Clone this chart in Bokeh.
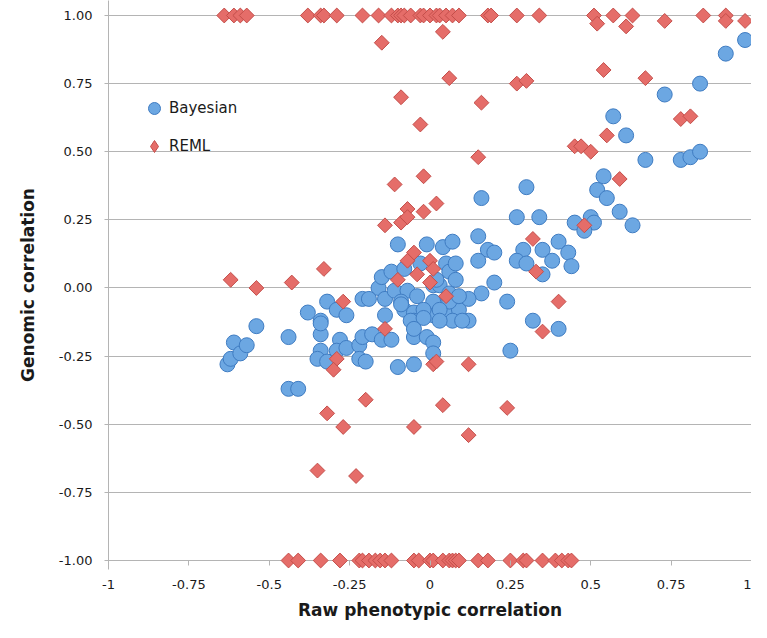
import numpy as np
from bokeh.plotting import figure
from bokeh.models import FixedTicker, Legend, LegendItem, Range1d
from bokeh.embed import file_html
from bokeh.resources import INLINE

# ---- tick definitions ----
x_ticks = [-1, -0.75, -0.5, -0.25, 0, 0.25, 0.5, 0.75, 1]
x_tick_labels = ["-1", "-0.75", "-0.5", "-0.25", "0", "0.25", "0.5", "0.75", "1"]
y_ticks = [-1, -0.75, -0.5, -0.25, 0, 0.25, 0.5, 0.75, 1]
y_tick_labels = ["-1.00", "-0.75", "-0.50", "-0.25", "0.00", "0.25", "0.50", "0.75", "1.00"]

series_names = ["Bayesian", "REML"]

# ---- Bayesian series ----
bayes_x = [-0.63, -0.62, -0.61, -0.59, -0.57, -0.54, -0.44, -0.44, -0.41, -0.38,
           -0.34, -0.34, -0.32, -0.29, -0.26, -0.21, -0.16, -0.14, -0.15, -0.12,
           -0.11, -0.10, -0.08, -0.07, -0.04, -0.03, -0.01, 0.01, 0.03, 0.04,
           0.07, 0.05, 0.06, 0.08, -0.09, -0.08, -0.05, -0.14, -0.05, 0.01,
           0.02, 0.06, 0.06, 0.09, -0.34, -0.28, -0.34, -0.35, -0.32, -0.29,
           -0.26, -0.22, -0.21, -0.18, -0.15, -0.12, -0.22, -0.20, -0.10, -0.05,
           -0.05, -0.01, 0.01, 0.01, 0.30, 0.16, 0.54, 0.52, 0.55, 0.59,
           0.27, 0.34, 0.45, 0.50, 0.51, 0.48, 0.63, 0.15, 0.18, 0.20,
           0.15, 0.29, 0.35, 0.40, 0.43, 0.38, 0.27, 0.30, 0.44, 0.35,
           0.20, 0.16, 0.12, 0.06, 0.24, 0.12, 0.32, 0.40, 0.25, 0.98,
           0.92, 0.84, 0.73, 0.57, 0.61, 0.67, 0.78, 0.81, 0.84, 0.01,
           0.06, 0.09, -0.09, -0.02, -0.06, -0.02, 0.03, 0.07, 0.10, 0.03,
           -0.05, -0.19, 0.02, 0.08]
bayes_y = [-0.28, -0.26, -0.20, -0.24, -0.21, -0.14, -0.18, -0.37, -0.37, -0.09,
           -0.12, -0.17, -0.05, -0.08, -0.10, -0.04, 0.00, -0.04, 0.04, 0.06,
           -0.01, 0.16, 0.07, -0.01, -0.03, 0.09, 0.16, 0.01, 0.01, 0.15,
           0.17, 0.09, 0.06, 0.09, -0.05, -0.08, -0.09, -0.10, -0.12, -0.10,
           -0.06, -0.07, -0.10, -0.08, -0.13, -0.19, -0.23, -0.26, -0.27, -0.23,
           -0.22, -0.21, -0.18, -0.17, -0.19, -0.19, -0.26, -0.27, -0.29, -0.28,
           -0.18, -0.18, -0.20, -0.24, 0.37, 0.33, 0.41, 0.36, 0.33, 0.28,
           0.26, 0.26, 0.24, 0.26, 0.24, 0.21, 0.23, 0.19, 0.14, 0.13,
           0.10, 0.14, 0.14, 0.17, 0.13, 0.10, 0.10, 0.09, 0.08, 0.05,
           0.02, -0.02, -0.04, -0.02, -0.05, -0.12, -0.12, -0.15, -0.23, 0.91,
           0.86, 0.75, 0.71, 0.63, 0.56, 0.47, 0.47, 0.48, 0.50, -0.05,
           -0.05, -0.03, -0.06, -0.08, -0.12, -0.11, -0.08, -0.12, -0.12, -0.12,
           -0.15, -0.04, 0.03, 0.03]

# ---- REML series ----
reml_x = [-0.64, -0.61, -0.59, -0.57, -0.38, -0.34, -0.33, -0.29, -0.21, -0.16,
          -0.12, -0.10, -0.09, -0.08, -0.06, -0.03, -0.02, 0.00, 0.02, 0.03,
          0.05, 0.07, 0.09, 0.18, 0.19, 0.27, 0.34, 0.51, 0.57, 0.63,
          0.85, 0.92,
          0.52, 0.61, 0.73, 0.92, 0.98, -0.15, 0.04,
          0.06, -0.09, 0.16, -0.03, 0.27, 0.30, 0.54, 0.67, 0.78, 0.81,
          0.55, 0.45, 0.47, 0.50, 0.15, -0.11, -0.02, 0.59, -0.07, -0.02,
          0.02, -0.14, -0.09, -0.07, -0.33, -0.62, -0.54, -0.43, -0.05, -0.07,
          0.00, 0.01, -0.04, -0.10, 0.00, 0.05, -0.27, -0.14, -0.29, -0.30,
          0.01, 0.02, -0.20, 0.04, -0.32, -0.27, -0.05, 0.32, 0.33, 0.40,
          0.35, 0.12, 0.48, 0.24, 0.12, -0.35, -0.23,
          -0.44, -0.41, -0.34, -0.28, -0.22, -0.21, -0.19, -0.17, -0.155, -0.14,
          -0.12, -0.05, -0.035, 0.00, 0.01, 0.04, 0.06, 0.07, 0.08, 0.09,
          0.15, 0.18, 0.25, 0.29, 0.30, 0.35, 0.39, 0.41, 0.43, 0.44]
reml_y = [1.00, 1.00, 1.00, 1.00, 1.00, 1.00, 1.00, 1.00, 1.00, 1.00,
          1.00, 1.00, 1.00, 1.00, 1.00, 1.00, 1.00, 1.00, 1.00, 1.00,
          1.00, 1.00, 1.00, 1.00, 1.00, 1.00, 1.00, 1.00, 1.00, 1.00,
          1.00, 1.00,
          0.97, 0.96, 0.98, 0.98, 0.98, 0.90, 0.94,
          0.77, 0.70, 0.68, 0.60, 0.75, 0.76, 0.80, 0.77, 0.62, 0.63,
          0.56, 0.52, 0.52, 0.50, 0.48, 0.38, 0.41, 0.40, 0.29, 0.28,
          0.31, 0.23, 0.24, 0.26, 0.07, 0.03, 0.00, 0.02, 0.13, 0.10,
          0.10, 0.07, 0.05, 0.03, 0.02, -0.03, -0.05, -0.15, -0.26, -0.30,
          -0.28, -0.27, -0.41, -0.43, -0.46, -0.51, -0.51, 0.18, 0.06, -0.05,
          -0.16, -0.28, 0.23, -0.44, -0.54, -0.67, -0.69,
          -1.00, -1.00, -1.00, -1.00, -1.00, -1.00, -1.00, -1.00, -1.00, -1.00,
          -1.00, -1.00, -1.00, -1.00, -1.00, -1.00, -1.00, -1.00, -1.00, -1.00,
          -1.00, -1.00, -1.00, -1.00, -1.00, -1.00, -1.00, -1.00, -1.00, -1.00]

FONT = "DejaVu Sans"
GRID = "#b4b4b4"
TEXT = "#1a1a1a"
BLUE_FILL, BLUE_LINE = "#6ca7e2", "#3f7cc2"
RED_FILL, RED_LINE = "#e56d69", "#c44e4a"

p = figure(width=751, height=622,
           x_range=Range1d(-1, 1), y_range=Range1d(-1.033, 1.055),
           output_backend="svg", toolbar_location=None,
           min_border_left=108, min_border_right=0,
           min_border_top=0, min_border_bottom=48)
p.outline_line_color = None
p.background_fill_color = "white"
p.border_fill_color = "white"

# grids
p.xgrid.visible = False
p.ygrid.grid_line_color = GRID
p.ygrid.grid_line_width = 1

# x axis
xa = p.xaxis[0]
xa.ticker = FixedTicker(ticks=x_ticks)
xa.major_label_overrides = dict(zip(x_ticks, x_tick_labels))
xa.axis_line_color = None
xa.major_tick_line_color = GRID
xa.major_tick_in = 9
xa.major_tick_out = -4
xa.minor_tick_line_color = None
xa.major_label_standoff = 10
xa.major_label_text_font = FONT
xa.major_label_text_font_size = "13px"
xa.major_label_text_color = TEXT
xa.axis_label = "Raw phenotypic correlation"
xa.axis_label_text_font = FONT
xa.axis_label_text_font_style = "bold"
xa.axis_label_text_font_size = "17px"
xa.axis_label_text_color = TEXT
xa.axis_label_standoff = 8

# y axis
ya = p.yaxis[0]
ya.ticker = FixedTicker(ticks=y_ticks)
ya.major_label_overrides = dict(zip(y_ticks, y_tick_labels))
ya.axis_line_color = GRID
ya.major_tick_line_color = GRID
ya.major_tick_in = 0
ya.major_tick_out = 4
ya.minor_tick_line_color = None
ya.major_label_standoff = 12
ya.major_label_text_font = FONT
ya.major_label_text_font_size = "13px"
ya.major_label_text_color = TEXT
ya.axis_label = "Genomic correlation"
ya.axis_label_text_font = FONT
ya.axis_label_text_font_style = "bold"
ya.axis_label_text_font_size = "17px"
ya.axis_label_text_color = TEXT
ya.axis_label_standoff = 18

r_b = p.scatter(bayes_x, bayes_y, marker="circle", size=15,
                fill_color=BLUE_FILL, line_color=BLUE_LINE, line_width=1)
r_r = p.scatter(reml_x, reml_y, marker="square", angle=np.pi / 4, size=10.5,
                fill_color=RED_FILL, line_color=RED_LINE, line_width=1)

# legend-only renderer for a diamond-shaped swatch (its single point is NaN, so nothing is plotted)
r_r_key = p.scatter(x=[np.nan], y=[np.nan], marker="diamond", size=14,
                    fill_color=RED_FILL, line_color=RED_LINE, line_width=1)

legend = Legend(items=[LegendItem(label=series_names[0], renderers=[r_b]),
                       LegendItem(label=series_names[1], renderers=[r_r_key])],
                location=(31, 408), orientation="vertical",
                border_line_color=None, background_fill_alpha=0,
                padding=0, margin=0, spacing=8,
                glyph_width=30, glyph_height=30, label_height=30,
                label_standoff=0, label_text_font=FONT,
                label_text_font_size="15px", label_text_color=TEXT)
p.add_layout(legend)

open("out.html", "w").write(file_html(p, INLINE))
